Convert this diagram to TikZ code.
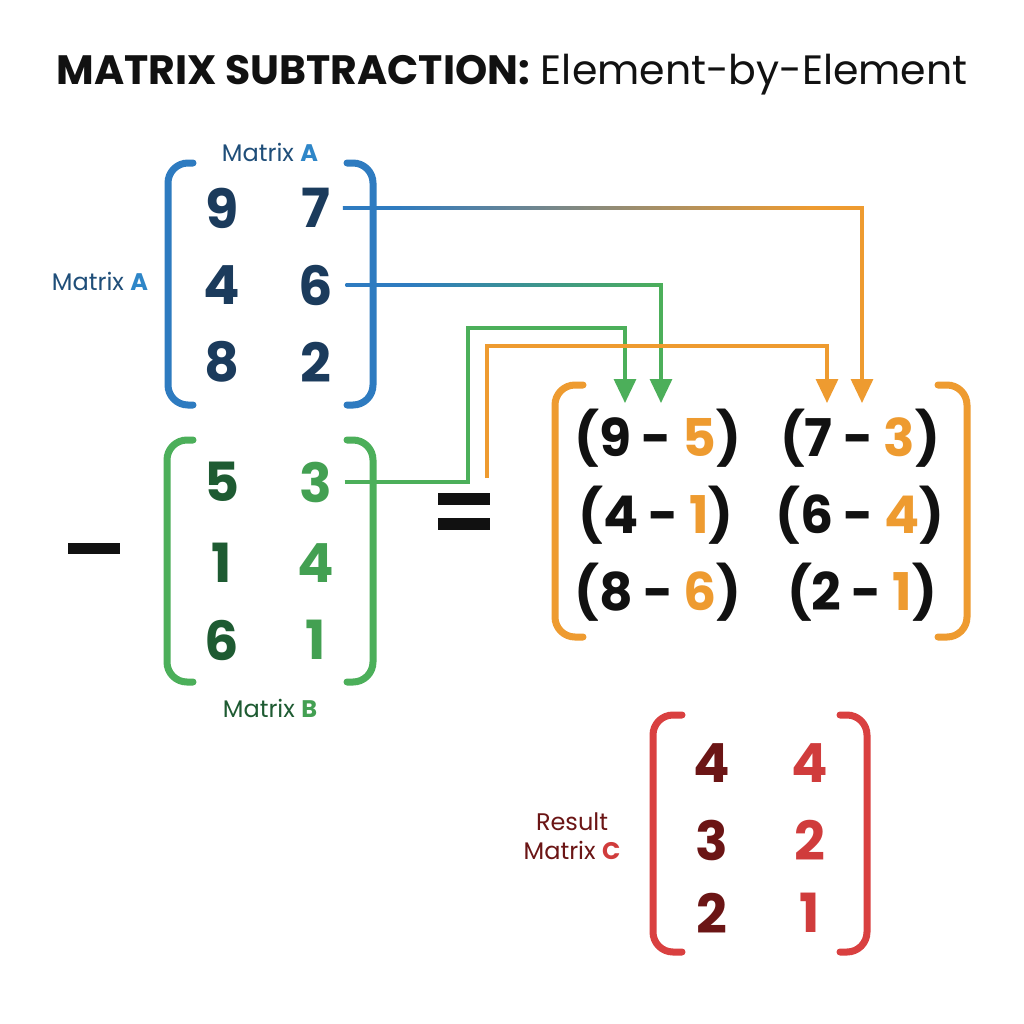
\documentclass[tikz,border=0pt]{standalone}
\usepackage{fontspec}
\setmainfont{Poppins}
\usetikzlibrary{arrows.meta}
\definecolor{cblue}{HTML}{2E7BC0}
\definecolor{cnavy}{HTML}{1B3B5C}
\definecolor{cbluelbl}{HTML}{1F4E79}
\definecolor{cbluelt}{HTML}{2E86C8}
\definecolor{cgreen}{HTML}{4CAF5A}
\definecolor{cgreendk}{HTML}{1E5B32}
\definecolor{cgreenmd}{HTML}{43A052}
\definecolor{corange}{HTML}{EE9B30}
\definecolor{cred}{HTML}{D94040}
\definecolor{creddk}{HTML}{6B1515}
\definecolor{credmd}{HTML}{D03C3C}
\definecolor{cblack}{HTML}{111111}
\newcommand\mytightspace{\spaceskip=0.2em\relax}
\pgfdeclarehorizontalshading{blueorange}{100bp}{color(0bp)=(cblue); color(30bp)=(cblue); color(70bp)=(corange); color(100bp)=(corange)}
\pgfdeclarehorizontalshading{bluegreen}{100bp}{color(0bp)=(cblue); color(35bp)=(cblue); color(75bp)=(cgreen); color(100bp)=(cgreen)}
\begin{document}
\begin{tikzpicture}[x=0.5pt,y=-0.5pt,
  dig/.style={font=\fontsize{27}{30}\selectfont\bfseries, inner sep=0pt},
  entry/.style={font=\fontsize{26}{30}\selectfont\bfseries\mytightspace, inner sep=0pt, anchor=base, text=cblack},
  brk/.style={line width=3.5pt, line cap=round, rounded corners=10pt},
  conn/.style={line width=1.6pt, -{Triangle[width=11pt,length=12pt]}},
  lbl/.style={font=\fontsize{12}{14}\selectfont, inner sep=0pt}]
\useasboundingbox (0,0) rectangle (1024,1024);
\fill[white] (0,0) rectangle (1024,1024);

% title
\node[inner sep=0pt, text=cblack] (title) at (512,75) {\fontsize{20.5}{24}\selectfont\textbf{MATRIX SUBTRACTION:} Element-by-Element};

% Matrix A
\draw[brk, cblue] (193,163) -- (168,163) -- (168,405) -- (193,405);
\draw[brk, cblue] (347,163) -- (373,163) -- (373,405) -- (347,405);
\node[dig, text=cnavy] (a11) at (222,208) {9};
\node[dig, text=cnavy] (a12) at (316,208) {7};
\node[dig, text=cnavy] (a21) at (222,285) {4};
\node[dig, text=cnavy] (a22) at (316,285) {6};
\node[dig, text=cnavy] (a31) at (222,362) {8};
\node[dig, text=cnavy] (a32) at (316,362) {2};
\node[lbl] (labA) at (270,152) {\textcolor{cbluelbl}{Matrix} \textcolor{cbluelt}{\textbf{A}}};
\node[lbl] (labA2) at (100,281) {\textcolor{cbluelbl}{Matrix} \textcolor{cbluelt}{\textbf{A}}};

% Matrix B
\draw[brk, cgreen] (193,440) -- (167,440) -- (167,682) -- (193,682);
\draw[brk, cgreen] (347,440) -- (373,440) -- (373,682) -- (347,682);
\node[dig, text=cgreendk] (b11) at (222,482) {5};
\node[dig, text=cgreenmd] (b12) at (316,482) {3};
\node[dig, text=cgreendk] (b21) at (222,563) {1};
\node[dig, text=cgreenmd] (b22) at (316,563) {4};
\node[dig, text=cgreendk] (b31) at (222,640) {6};
\node[dig, text=cgreenmd] (b32) at (316,640) {1};
\node[lbl] (labB) at (270,708) {\textcolor{cgreendk}{Matrix} \textcolor{cgreenmd}{\textbf{B}}};

% minus and equals
\fill[cblack] (68,543) rectangle (120,554);
\fill[cblack] (438,493) rectangle (490,505);
\fill[cblack] (438,518) rectangle (490,530);

% Middle matrix
\draw[brk, corange] (583,385) -- (555,385) -- (555,637) -- (583,637);
\draw[brk, corange] (938,385) -- (967,385) -- (967,637) -- (938,637);
\node[entry] (m11) at (658,456) {(9 - \textcolor{corange}{5})};
\node[entry] (m12) at (860,456) {(7 - \textcolor{corange}{3})};
\node[entry] (m21) at (656,533) {(4 - \textcolor{corange}{1})};
\node[entry] (m22) at (860,533) {(6 - \textcolor{corange}{4})};
\node[entry] (m31) at (658,610) {(8 - \textcolor{corange}{6})};
\node[entry] (m32) at (862,610) {(2 - \textcolor{corange}{1})};

% arrow targets
\coordinate (t1) at (625,403);
\coordinate (t2) at (661,403);
\coordinate (t3) at (827,403);
\coordinate (t4) at (862,403);
\coordinate (gcorner) at (468,328);
\coordinate (o0) at (487,478);
\coordinate (ocorner) at (827,346);

% connectors
\draw[conn, corange] ([xshift=6pt]a12.east) -| (t4);
\shade[shading=blueorange] ([xshift=6pt]a12.east) ++(0,-1.6) rectangle (863.6,209.6);
\draw[conn, cgreen] ([xshift=6pt]a22.east) -| (t2);
\shade[shading=bluegreen] ([xshift=6pt]a22.east) ++(0,-1.6) rectangle (662.6,286.6);
\draw[conn, cgreen] ([xshift=6pt]b12.east) -| (gcorner) -| (t1);
\draw[conn, corange] (o0) |- (ocorner) -- (t3);

% Result matrix C
\draw[brk, cred] (682,715) -- (653,715) -- (653,952) -- (682,952);
\draw[brk, cred] (840,715) -- (867,715) -- (867,952) -- (840,952);
\node[dig, text=creddk] (c11) at (712,763) {4};
\node[dig, text=credmd] (c12) at (810,763) {4};
\node[dig, text=creddk] (c21) at (712,840) {3};
\node[dig, text=credmd] (c22) at (810,840) {2};
\node[dig, text=creddk] (c31) at (712,913) {2};
\node[dig, text=credmd] (c32) at (810,913) {1};
\node[lbl, text=creddk] (labC1) at (572,822) {Result};
\node[lbl] (labC2) at (572,850) {\textcolor{creddk}{Matrix} \textcolor{credmd}{\textbf{C}}};
\end{tikzpicture}
\end{document}
